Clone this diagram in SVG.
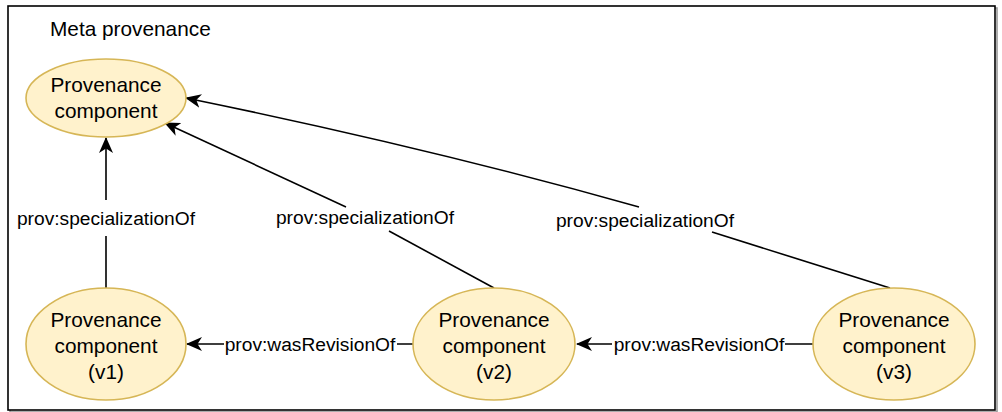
<svg xmlns="http://www.w3.org/2000/svg" width="1002" height="412" viewBox="0 0 1002 412">
<style>
.node{fill:#fff2cc;stroke:#d6b656;stroke-width:1.6}
.t{font-family:"Liberation Sans",Arial,sans-serif;font-size:20.8px;fill:#000;text-anchor:middle}
.lbl{font-family:"Liberation Sans",Arial,sans-serif;font-size:19.2px;fill:#000;text-anchor:middle}
.e{fill:none;stroke:#000;stroke-width:1.6}
</style>
<defs>
<marker id="arr" viewBox="0 0 16 14" refX="15" refY="7" markerWidth="16" markerHeight="14" markerUnits="userSpaceOnUse" orient="auto">
<path d="M0,0 L16,7 L0,14 L4.5,7 Z" fill="#000"/>
</marker>
</defs>
<rect width="1002" height="412" fill="#fff"/>
<g id="frame">
<rect x="10" y="8" width="987" height="404" fill="none" stroke="#999" stroke-width="1.6"/>
<rect x="8" y="6" width="987" height="404" fill="#fff" stroke="#000" stroke-width="1.6"/>
<text x="50" y="36" class="t" style="text-anchor:start">Meta provenance</text>
</g>
<g id="connectors">
<path class="e" d="M106,288 V236 M106,200 V138" marker-end="url(#arr)"/>
<path class="e" d="M494,288 L389,231" />
<path class="e" d="M346,207 L165,123" marker-end="url(#arr)"/>
<path class="e" d="M890,288 L712,232"/>
<path class="e" d="M639,207 Q430,148 186,98" marker-end="url(#arr)"/>
<path class="e" d="M413,344 H397 M224,344 H187" marker-end="url(#arr)"/>
<path class="e" d="M813,344 H785 M612,344 H577" marker-end="url(#arr)"/>
<text x="106" y="225" class="lbl">prov:specializationOf</text>
<text x="365" y="224" class="lbl">prov:specializationOf</text>
<text x="645" y="227" class="lbl">prov:specializationOf</text>
<text x="310" y="351" class="lbl">prov:wasRevisionOf</text>
<text x="699" y="351" class="lbl">prov:wasRevisionOf</text>
</g>
<g id="top">
<ellipse class="node" cx="106" cy="98" rx="80" ry="39"/>
<text x="106" y="92" class="t">Provenance</text>
<text x="106" y="118" class="t">component</text>
</g>
<g id="v1">
<ellipse class="node" cx="106" cy="344" rx="80" ry="56"/>
<text x="106" y="327" class="t">Provenance</text>
<text x="106" y="353" class="t">component</text>
<text x="106" y="379" class="t">(v1)</text>
</g>
<g id="v2">
<ellipse class="node" cx="494" cy="344" rx="81" ry="56"/>
<text x="494" y="327" class="t">Provenance</text>
<text x="494" y="353" class="t">component</text>
<text x="494" y="379" class="t">(v2)</text>
</g>
<g id="v3">
<ellipse class="node" cx="894" cy="344" rx="81" ry="56"/>
<text x="894" y="327" class="t">Provenance</text>
<text x="894" y="353" class="t">component</text>
<text x="894" y="379" class="t">(v3)</text>
</g>
</svg>
